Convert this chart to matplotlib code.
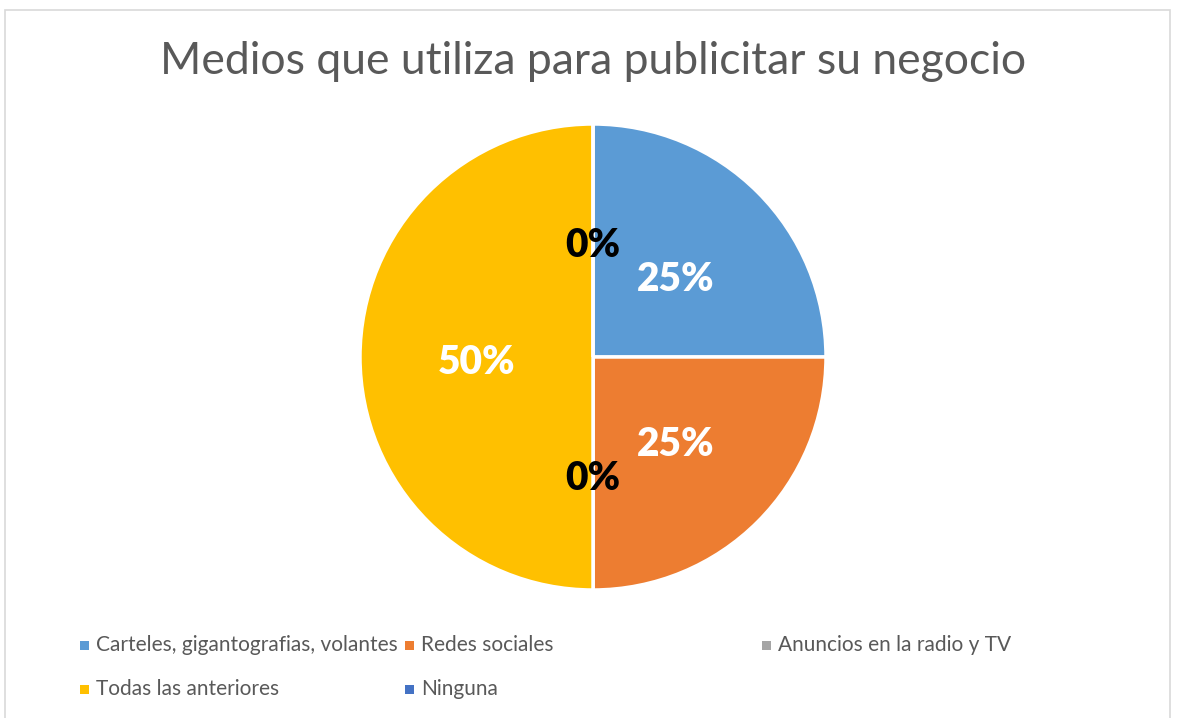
import matplotlib
matplotlib.use("Agg")
import matplotlib.pyplot as plt
from matplotlib.patches import Rectangle

categories = ["Carteles, gigantografias, volantes", "Redes sociales",
              "Anuncios en la radio y TV", "Todas las anteriores", "Ninguna"]
values = [25, 25, 0, 50, 0]
colors = ["#5B9BD5", "#ED7D31", "#A5A5A5", "#FFC000", "#4472C4"]
title = "Medios que utiliza para publicitar su negocio"

W, H = 1181, 718
fig = plt.figure(figsize=(W / 100, H / 100), dpi=100)
plt.rcParams['font.family'] = ['Lato', 'DejaVu Sans']

# chart border
fig.patches.append(Rectangle((5 / W, -0.01), (1170 - 5) / W, (H - 10) / H + 0.01,
                             transform=fig.transFigure, fill=False,
                             edgecolor="#D9D9D9", linewidth=1.2))

cx, cy, r = 593, 357, 233
ax = fig.add_axes([(cx - r) / W, (H - cy - r) / H, 2 * r / W, 2 * r / H])
wedges, texts, autotexts = ax.pie(values, colors=colors, startangle=90, counterclock=False,
                                  autopct=lambda p: f"{p:.0f}%", pctdistance=0.5,
                                  wedgeprops=dict(edgecolor="white", linewidth=2.5),
                                  textprops=dict(fontsize=28, fontweight="heavy"))
for v, t in zip(values, autotexts):
    t.set_color("black" if v == 0 else "white")
    x, y = t.get_position()
    t.set_position((x, y - 0.022))
ax.set_xlim(-1, 1)
ax.set_ylim(-1, 1)
ax.set_aspect("equal")
ax.axis("off")

fig.text(593 / W, 1 - 62 / H, title, ha="center", va="center", fontsize=32, color="#595959")

# legend
pos = [(80, 645), (405, 645), (762, 645), (80, 689), (405, 689)]
for (x, y), lab, c in zip(pos, categories, colors):
    fig.patches.append(Rectangle((x / W, 1 - (y + 5) / H), 9 / W, 9 / H,
                                 transform=fig.transFigure, facecolor=c, edgecolor="none"))
    fig.text((x + 16) / W, 1 - y / H, lab, ha="left", va="center", fontsize=15, color="#595959")

fig.savefig("out.png", dpi=100)
